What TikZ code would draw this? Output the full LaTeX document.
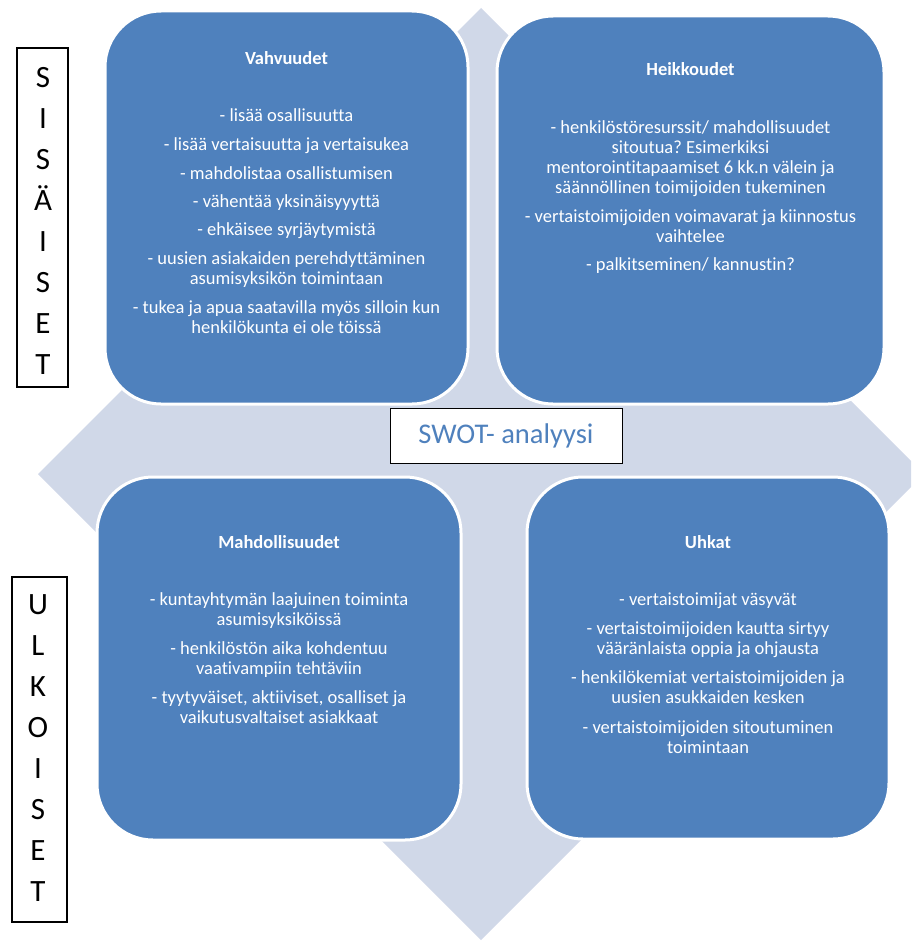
\documentclass[tikz,border=0pt]{standalone}
\usepackage{fontspec}
\setmainfont{Carlito}[Ligatures={NoCommon}]
\usetikzlibrary{shadows}
\definecolor{swblue}{RGB}{79,129,189}
\definecolor{arrowbg}{RGB}{208,216,232}
\frenchspacing
\begin{document}
\begin{tikzpicture}[x=1pt,y=-1pt,
  quad/.style={rectangle, rounded corners=56pt, fill=swblue, draw=white, line width=3pt, inner sep=0pt},
  quadtext/.style={anchor=north, inner sep=0pt, align=center, text=white, font=\fontsize{18.5}{20}\selectfont},
  sidebox/.style={rectangle, draw=black, line width=1.2pt, fill=white, inner sep=0pt},
  sidetext/.style={anchor=north, inner sep=0pt, align=center, text=black, font=\fontsize{31}{41}\selectfont},
  titlebox/.style={rectangle, draw=black, line width=1pt, fill=white, inner sep=0pt,
    general shadow={fill=black!65, shadow xshift=1pt, shadow yshift=-1.2pt},
    text=swblue, font=\fontsize{28.5}{34}\selectfont}]
\useasboundingbox (0,0) rectangle (911,942);
\begin{scope}
\clip (0,0) rectangle (911,942);
% four-headed background arrow
\fill[arrowbg] (481,8) -- (611,138) -- (531,138) -- (531,384) -- (824,384) -- (824,374)
  -- (924,474) -- (824,574) -- (824,564) -- (531,564) -- (531,810) -- (611,810)
  -- (481,940) -- (351,810) -- (431,810) -- (431,564) -- (138,564) -- (138,574)
  -- (38,474) -- (138,374) -- (138,384) -- (431,384) -- (431,138) -- (351,138) -- cycle;
\end{scope}

% quadrant boxes
\node[quad, minimum width=363pt, minimum height=393pt] (vbox) at (286.5,207.5) {};
\node[quad, minimum width=387pt, minimum height=388pt] (hbox) at (690.5,210) {};
\node[quad, minimum width=364pt, minimum height=363pt] (mbox) at (279,658.5) {};
\node[quad, minimum width=362pt, minimum height=362pt] (ubox) at (708,658) {};

\node[quadtext] (vtext) at (286.5,50) {\strut\textbf{Vahvuudet}\\[37pt]
- lisää osallisuutta\\[9pt]
- lisää vertaisuutta ja vertaisukea\\[9pt]
- mahdolistaa osallistumisen\\[8pt]
- vähentää yksinäisyyyttä\\[8pt]
- ehkäisee syrjäytymistä\\[9pt]
- uusien asiakaiden perehdyttäminen\\
asumisyksikön toimintaan\\[9pt]
- tukea ja apua saatavilla myös silloin kun\\
henkilökunta ei ole töissä};

\node[quadtext] (htext) at (690.5,61) {\strut\textbf{Heikkoudet}\\[38pt]
- henkilöstöresurssit/ mahdollisuudet\\
sitoutua? Esimerkiksi\\
mentorointitapaamiset 6 kk.n välein ja\\
säännöllinen toimijoiden tukeminen\\[9pt]
- vertaistoimijoiden voimavarat ja kiinnostus\\
vaihtelee\\[8pt]
- palkitseminen/ kannustin?};

\node[quadtext] (mtext) at (279,534) {\strut\textbf{Mahdollisuudet}\\[37pt]
- kuntayhtymän laajuinen toiminta\\
asumisyksiköissä\\[9pt]
- henkilöstön aika kohdentuu\\
vaativampiin tehtäviin\\[9pt]
- tyytyväiset, aktiiviset, osalliset ja\\
vaikutusvaltaiset asiakkaat};

\node[quadtext] (utext) at (708,534) {\strut\textbf{Uhkat}\\[37pt]
- vertaistoimijat väsyvät\\[9pt]
- vertaistoimijoiden kautta sirtyy\\
vääränlaista oppia ja ohjausta\\[9pt]
- henkilökemiat vertaistoimijoiden ja\\
uusien asukkaiden kesken\\[10pt]
- vertaistoimijoiden sitoutuminen\\
toimintaan};

% centre title
\node[titlebox, minimum width=232pt, minimum height=55pt] (swot) at (506,435.5) {SWOT- analyysi};

% side labels
\node[sidebox, minimum width=51pt, minimum height=339pt] (sisbox) at (42.5,217.5) {};
\node[sidetext] (sistext) at (43,59) {\strut S\\I\\S\\Ä\\I\\S\\E\\T};
\node[sidebox, minimum width=55pt, minimum height=345pt] (ulkbox) at (39.5,749.5) {};
\node[sidetext] (ulktext) at (38,586) {\strut U\\L\\K\\O\\I\\S\\E\\T};
\end{tikzpicture}
\end{document}
